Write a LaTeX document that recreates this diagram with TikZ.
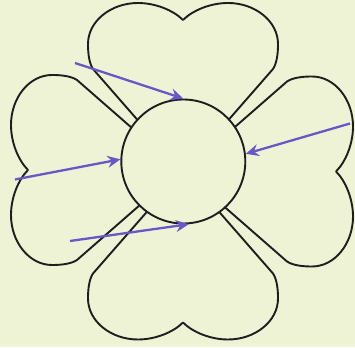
\documentclass[tikz,border=0pt]{standalone}
\usetikzlibrary{arrows.meta}
\definecolor{bg}{RGB}{238,243,214}
\definecolor{ink}{RGB}{30,30,30}
\definecolor{arr}{RGB}{104,88,198}
\tikzset{
  petal/.style={draw=ink, line width=1.9pt, fill=bg, line join=round},
  core/.style={circle, draw=ink, line width=1.9pt, fill=bg, minimum size=124pt, inner sep=0pt},
  ray/.style={draw=arr, line width=2.3pt, -{Stealth[length=13pt,width=12pt,inset=4.5pt]}}
}
\newcommand{\petalpath}{(0,0) -- (-90,103)
  .. controls (-94,109) and (-95,119) .. (-95,128)
  .. controls (-95,150.6) and (-72.4,169) .. (-45,169)
  .. controls (-28,169) and (-10,162) .. (0,152)
  .. controls (10,162) and (28,169) .. (45,169)
  .. controls (72.4,169) and (95,150.6) .. (95,128)
  .. controls (95,119) and (94,109) .. (90,103) -- cycle}
\begin{document}
\begin{tikzpicture}[x=1pt,y=1pt]
\useasboundingbox (0,0) rectangle (355,347);
\fill[bg] (0,0) rectangle (355,347);
% petals (apex positions, y measured upward)
\begin{scope}[shift={(183,175)}]
  \path[petal] \petalpath;
\end{scope}
\begin{scope}[shift={(180,177)}, rotate=90]
  \path[petal] \petalpath;
\end{scope}
\begin{scope}[shift={(184,175.5)}, rotate=-90]
  \path[petal] \petalpath;
\end{scope}
\begin{scope}[shift={(183,176.5)}, rotate=180]
  \path[petal] \petalpath;
\end{scope}
% centre
\node[core] (c) at (183.3,185.5) {};
% arrows
\coordinate (s1) at (75,284);
\coordinate (s2) at (15,167.5);
\coordinate (s3) at (350,223.5);
\coordinate (s4) at (70,106);
\draw[ray] (s1) -- (c.north);
\draw[ray] (s2) -- (c.178);
\draw[ray] (s3) -- (c.7);
\draw[ray] (s4) -- (c.-85);
\end{tikzpicture}
\end{document}
